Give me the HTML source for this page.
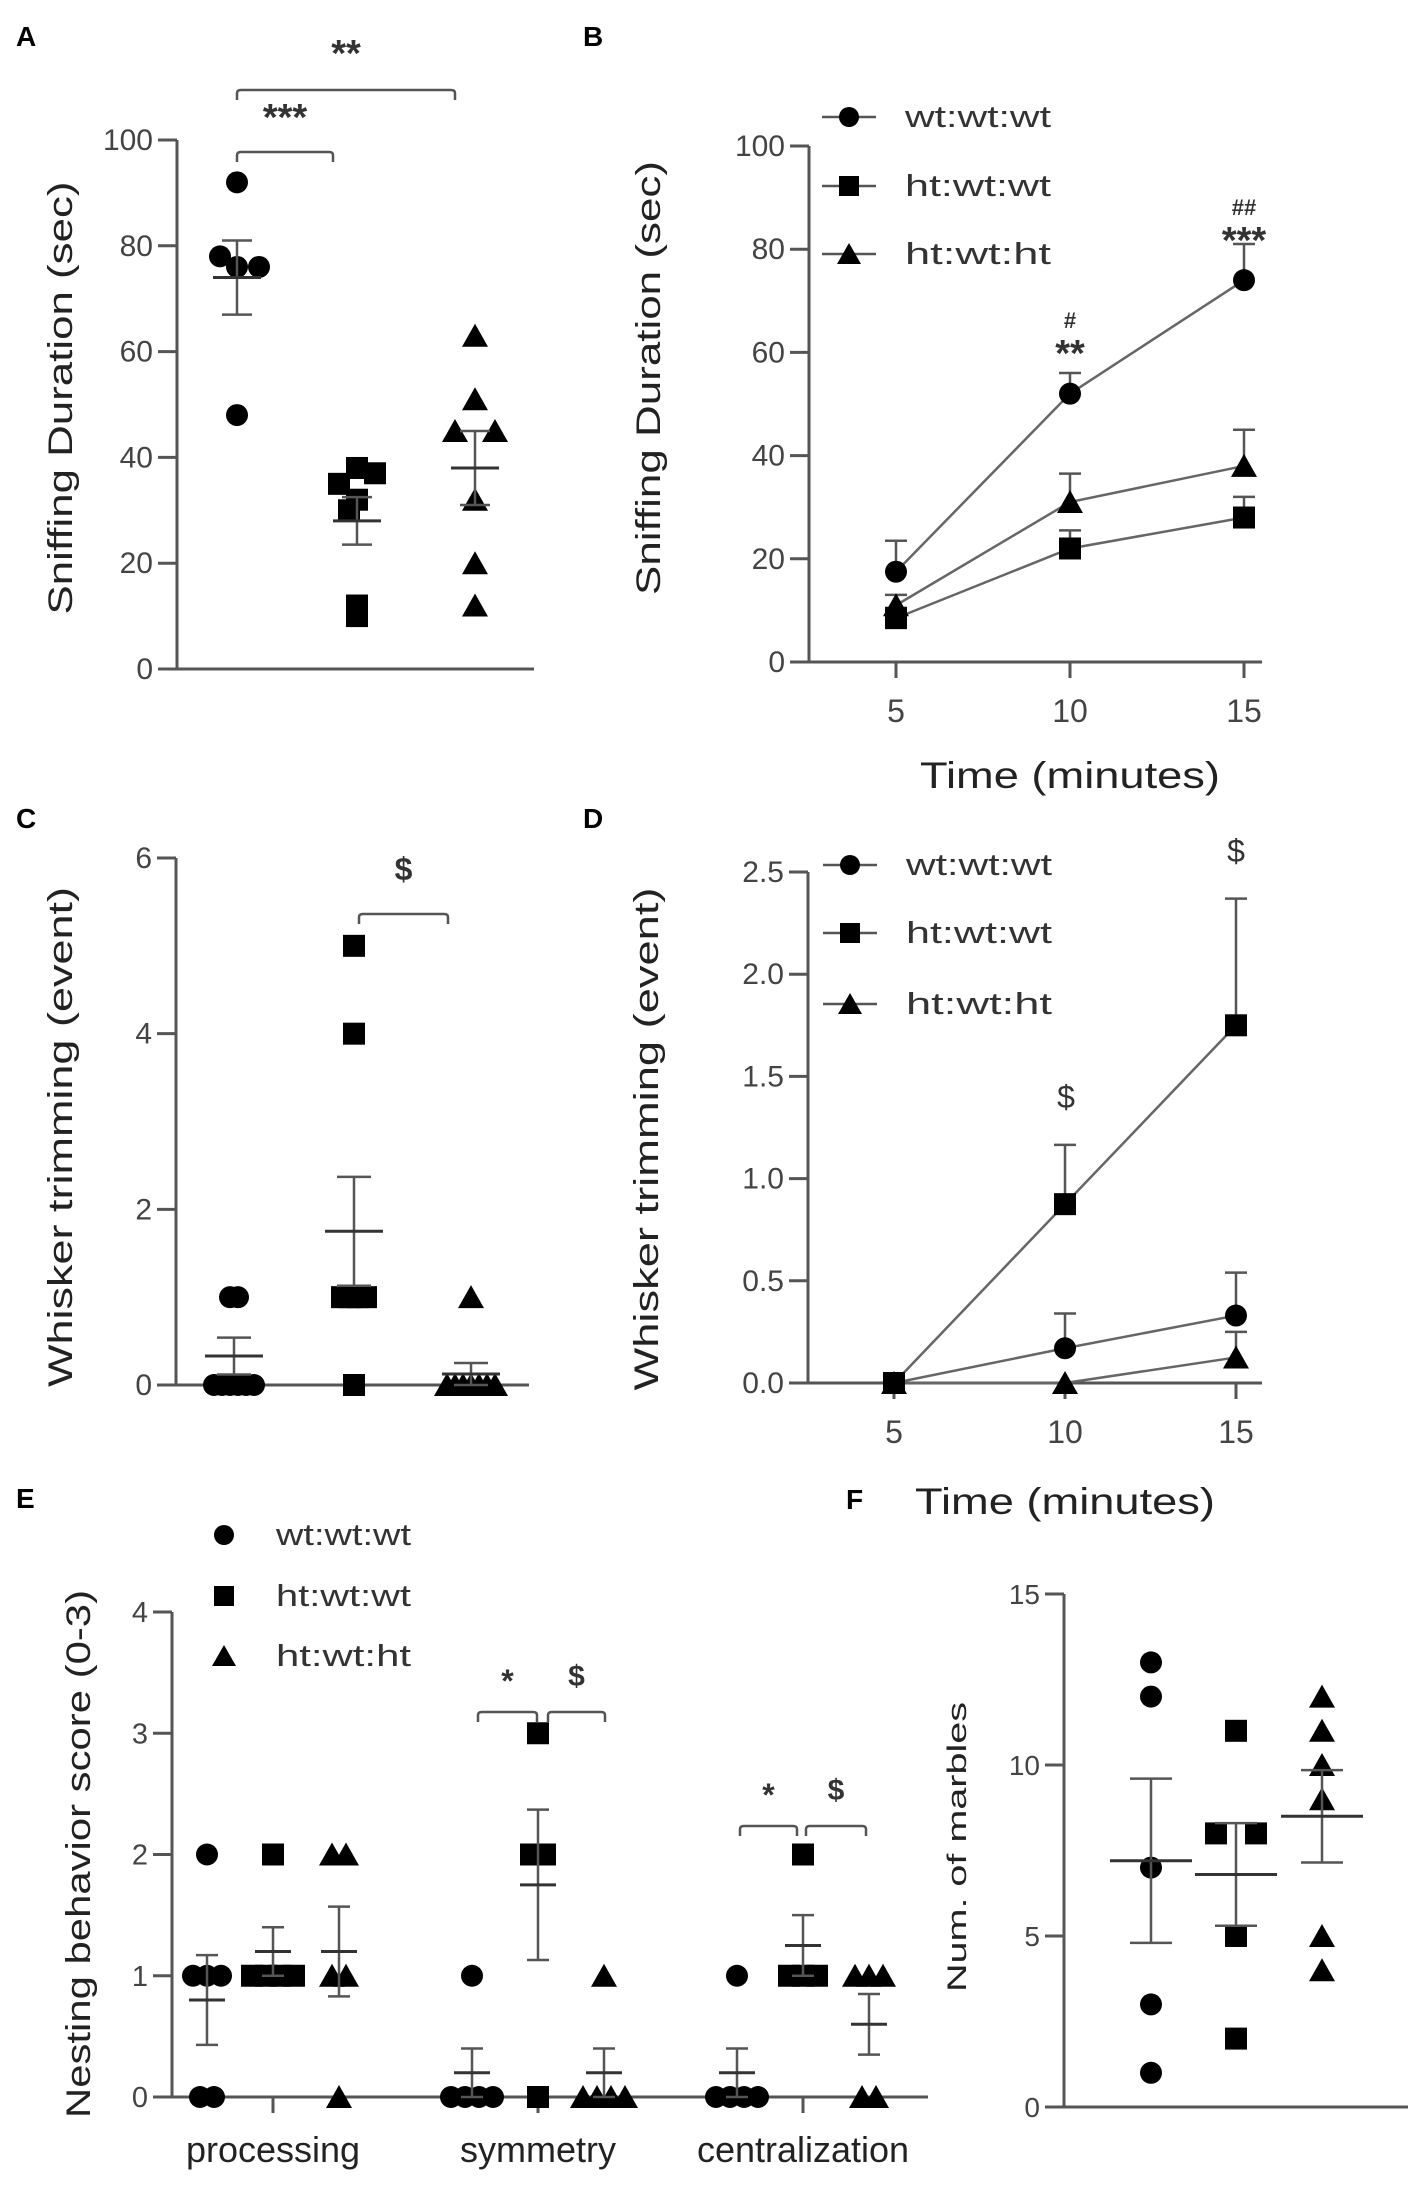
<!DOCTYPE html>
<html><head><meta charset="utf-8"><title>Behavior figure</title>
<style>
html,body{margin:0;padding:0;background:#fff;}
svg{display:block;font-family:"Liberation Sans",sans-serif;}
</style></head>
<body>
<svg id="fig" width="1418" height="2186" viewBox="0 0 1418 2186" xmlns="http://www.w3.org/2000/svg"></svg>
<script>
// ---------- Panel A data ----------
const A_groups=['wt:wt:wt','ht:wt:wt','ht:wt:ht'];
const A_wt=[92,78,76,76,48];
const A_htwt=[38,37,35,32,30,12,10];
const A_htht=[63,51,45,45,32,20,12];
const A_mean=[74,28,38];
const A_sem=[7,4.5,7];
const A_ticks=[0,20,40,60,80,100];
// ---------- Panel B data ----------
const B_times=[5,10,15];
const B_wt=[17.5,52,74];
const B_wtErr=[6,4,7];
const B_htwt=[8.5,22,28];
const B_htwtErr=[2,3.5,4];
const B_htht=[11,31,38];
const B_hthtErr=[2,5.5,7];
const B_ticks=[0,20,40,60,80,100];
// ---------- Panel C data ----------
const C_wt=[1,1,0,0,0,0,0,0];
const C_htwt=[5,4,1,1,1,1,0];
const C_htht=[1,0,0,0,0,0,0,0];
const C_mean=[0.33,1.75,0.125];
const C_sem=[0.21,0.62,0.125];
const C_ticks=[0,2,4,6];
// ---------- Panel D data ----------
const D_times=[5,10,15];
const D_wt=[0,0.17,0.33];
const D_wtErr=[0,0.17,0.21];
const D_htwt=[0,0.875,1.75];
const D_htwtErr=[0,0.29,0.62];
const D_htht=[0,0,0.125];
const D_hthtErr=[0,0,0.125];
const D_ticks=[0,0.5,1.0,1.5,2.0,2.5];
// ---------- Panel E data ----------
const E_categories=['processing','symmetry','centralization'];
const E_wt=[[2,1,1,1,0,0],[1,0,0,0,0],[1,0,0,0,0]];
const E_htwt=[[2,1,1,1,1],[3,2,2,0],[2,1,1,1]];
const E_htht=[[2,2,1,1,0],[1,0,0,0,0],[1,1,1,0,0]];
const E_mean=[[0.8,1.2,1.2],[0.2,1.75,0.2],[0.2,1.25,0.6]];
const E_sem=[[0.37,0.2,0.37],[0.2,0.62,0.2],[0.2,0.25,0.25]];
const E_ticks=[0,1,2,3,4];
// ---------- Panel F data ----------
const F_wt=[13,12,7,3,1];
const F_htwt=[11,8,8,5,2];
const F_htht=[12,11,10,9,5,4];
const F_mean=[7.2,6.8,8.5];
const F_sem=[2.4,1.5,1.35];
const F_ticks=[0,5,10,15];

const svg=document.getElementById('fig');
const NS='http://www.w3.org/2000/svg';
const AX='#555';
function mk(tag,attrs,parent){const e=document.createElementNS(NS,tag);for(const k in attrs)e.setAttribute(k,attrs[k]);(parent||svg).appendChild(e);return e;}
function txt(s,attrs,parent){const e=mk('text',attrs,parent);e.textContent=s;return e;}
function marker(shape,x,y,parent,size){
  const r=size||11;let e;
  if(shape==='circle')e=mk('circle',{cx:x,cy:y,r:r,fill:'#000'},parent);
  else if(shape==='square')e=mk('rect',{x:x-r,y:y-r,width:2*r,height:2*r,fill:'#000'},parent);
  else e=mk('polygon',{points:`${x},${y-r-1} ${x+r+2},${y+r} ${x-r-2},${y+r}`,fill:'#000'},parent);
  return e;
}
function yAxis(g,x,yt,yb,ymin,ymax,ticks,fmt,fs){
  const sy=v=>yb-(v-ymin)/(ymax-ymin)*(yb-yt);
  const ax=mk('line',{x1:x,y1:yt,x2:x,y2:yb,stroke:AX,'stroke-width':3},g);
  
  
  ticks.forEach(t=>{
    const tk=mk('line',{x1:x-19,y1:sy(t),x2:x,y2:sy(t),stroke:AX,'stroke-width':3},g);
    
    
    const l=txt(fmt?fmt(t):String(t),{x:x-24,y:sy(t)+10,'text-anchor':'end','font-size':fs||30,fill:'#444'},g);
    
    
  });
  return sy;
}
function xAxisLine(g,x1,x2,y){
  const a=mk('line',{x1:x1,y1:y,x2:x2,y2:y,stroke:AX,'stroke-width':3},g);
  
  
}
function yTitle(g,s,cx,cy,len,fs){
  const t=txt(s,{x:0,y:0,transform:`translate(${cx},${cy}) rotate(-90)`,'text-anchor':'middle','font-size':fs,fill:'#222',textLength:len,lengthAdjust:'spacingAndGlyphs'},g);
  
  
}
function panelLabel(s,x,y){
  const t=txt(s,{x:x,y:y,'font-size':28,'font-weight':'bold',fill:'#000'});
  
  
}
function bracket(g,x1,x2,y,label,ly,fs){
  const p=mk('path',{d:`M${x1},${y+10} L${x1},${y+3} Q${x1},${y} ${x1+4},${y} L${x2-4},${y} Q${x2},${y} ${x2},${y+3} L${x2},${y+10}`,fill:'none',stroke:AX,'stroke-width':2.5},g);
  
  
  const t=txt(label,{x:(x1+x2)/2,y:ly,'text-anchor':'middle','font-size':fs||30,'font-weight':'bold',fill:'#333'},g);
  
  
}
function meanSem(g,x,sy,m,s,mh,ch){
  const e=mk('line',{x1:x,y1:sy(m-s),x2:x,y2:sy(m+s),stroke:AX,'stroke-width':2.5},g);
  
  
  [m-s,m+s].forEach(v=>{
    const c=mk('line',{x1:x-ch,y1:sy(v),x2:x+ch,y2:sy(v),stroke:AX,'stroke-width':2.5},g);
    
    
  });
  const ml=mk('line',{x1:x-mh,y1:sy(m),x2:x+mh,y2:sy(m),stroke:'#333','stroke-width':3},g);
  
  
}
function scatter(g,vals,cx,sy,shape,spread,name){
  const counts={};vals.forEach(v=>counts[v]=(counts[v]||0)+1);
  const seen={};
  vals.forEach(v=>{
    const n=counts[v];const k=(seen[v]=(seen[v]||0)+1)-1;
    const dx=n>1?(k-(n-1)/2)*spread:0;
    const m=marker(shape,cx+dx,sy(v),g);
    
    
  });
}
function legend(g,items,x,ys,tx,withLine,fs,len){
  items.forEach((it,i)=>{
    if(withLine){
      const l=mk('line',{x1:x-27,y1:ys[i],x2:x+27,y2:ys[i],stroke:AX,'stroke-width':2.5},g);
      
      
    }
    const m=marker(it[1],x,ys[i],g,10);
    
    
    const t=txt(it[0],{x:tx,y:ys[i]+10,'font-size':fs,fill:'#333',textLength:len,lengthAdjust:'spacingAndGlyphs'},g);
    
    
  });
}
const shapes=['circle','square','triangle'];

// ================= Panel A =================
(function(){
  const g=mk('g',{});
  
  
  panelLabel('A',16,46);
  const sy=yAxis(g,177,140,669,0,100,A_ticks);
  xAxisLine(g,158,534,669);
  yTitle(g,'Sniffing Duration (sec)',72,398,433,34);
  const cx=[237,357,475];
  [A_wt,A_htwt,A_htht].forEach((vals,i)=>{
    vals.forEach((v,j)=>{
      let dx=0;
      if(i===0){dx=[0,-17,0,22,0][j];}
      if(i===1){dx=[0,18,-18,0,-8,0,0][j];}
      if(i===2){dx=[0,0,-20,20,0,0,0][j];}
      const m=marker(shapes[i],cx[i]+dx,sy(vals[j]),g);
      
      
    });
    meanSem(g,cx[i],sy,A_mean[i],A_sem[i],24,15);
  });
  bracket(g,cx[0],333,152,'***',130,38);
  bracket(g,cx[0],455,90,'**',66,38);
})();

// ================= line panels =================
function linePanel(cfg){
  const g=mk('g',{});
  
  
  const sy=yAxis(g,cfg.x0,cfg.yt,cfg.yb,cfg.ymin,cfg.ymax,cfg.ticks,cfg.fmt);
  xAxisLine(g,cfg.x0-19,cfg.xEnd,cfg.yb);
  const sx=t=>cfg.xa+(t-cfg.times[0])/(cfg.times[cfg.times.length-1]-cfg.times[0])*(cfg.xb-cfg.xa);
  cfg.times.forEach(t=>{
    const tk=mk('line',{x1:sx(t),y1:cfg.yb,x2:sx(t),y2:cfg.yb+16,stroke:AX,'stroke-width':3},g);
    
    
    const l=txt(String(t),{x:sx(t),y:cfg.yb+60,'text-anchor':'middle','font-size':32,fill:'#444'},g);
    
    
  });
  const xt=txt('Time (minutes)',{x:sx(cfg.times[1]),y:cfg.xTitleY,'text-anchor':'middle','font-size':37,fill:'#222',textLength:300,lengthAdjust:'spacingAndGlyphs'},g);
  
  
  yTitle(g,cfg.title,cfg.titleX,cfg.titleY,cfg.titleLen,34);
  cfg.series.forEach((s,i)=>{
    const pts=s.vals.map((v,j)=>`${sx(cfg.times[j])},${sy(v)}`).join(' ');
    const pl=mk('polyline',{points:pts,fill:'none',stroke:'#666','stroke-width':2.5},g);
    
    
  });
  cfg.series.forEach((s,i)=>{
    s.vals.forEach((v,j)=>{
      const x=sx(cfg.times[j]);
      if(s.err[j]>0){
        const e=mk('line',{x1:x,y1:sy(v),x2:x,y2:sy(v+s.err[j]),stroke:AX,'stroke-width':2.5},g);
        
        
        const c=mk('line',{x1:x-11,y1:sy(v+s.err[j]),x2:x+11,y2:sy(v+s.err[j]),stroke:AX,'stroke-width':2.5},g);
        
        
      }
      const m=marker(shapes[i],x,sy(v),g);
      
      
    });
  });
  legend(g,cfg.series.map((s,i)=>[s.label,shapes[i]]),cfg.legX,cfg.legY,cfg.legX+56,true,31,146);
  return {g,sx,sy};
}
panelLabel('B',583,46);
const B=linePanel({name:'panel-b',x0:809,yt:146,yb:662,ymin:0,ymax:100,ticks:B_ticks,xa:896,xb:1244,xEnd:1262,
  times:B_times,xTitleY:788,title:'Sniffing Duration (sec)',titleX:660,titleY:378,titleLen:434,
  series:[{label:'wt:wt:wt',vals:B_wt,err:B_wtErr},{label:'ht:wt:wt',vals:B_htwt,err:B_htwtErr},{label:'ht:wt:ht',vals:B_htht,err:B_hthtErr}],
  legX:849,legY:[117,186,254]});
[['#',1070,328,22],['**',1070,366,38],['##',1244,215,22],['***',1244,253,38]].forEach(a=>{
  const t=txt(a[0],{x:a[1],y:a[2],'text-anchor':'middle','font-size':a[3],'font-weight':'bold',fill:'#333'},B.g);
  
  
});

// ================= Panel C =================
(function(){
  const g=mk('g',{});
  
  
  panelLabel('C',16,828);
  const sy=yAxis(g,176,858,1385,0,6,C_ticks);
  xAxisLine(g,157,529,1385);
  yTitle(g,'Whisker trimming (event)',72,1137,500,34);
  const cx=[234,354,471];
  [C_wt,C_htwt,C_htht].forEach((vals,i)=>{
    scatter(g,vals,cx[i],sy,shapes[i],8,'point-'+A_groups[i]);
    meanSem(g,cx[i],sy,C_mean[i],C_sem[i],29,17);
  });
  bracket(g,359,448,914,'$',880,32);
})();

// ================= Panel D =================
panelLabel('D',583,828);
const D=linePanel({name:'panel-d',x0:808,yt:872,yb:1383,ymin:0,ymax:2.5,ticks:D_ticks,fmt:t=>t.toFixed(1),xa:894,xb:1236,xEnd:1262,
  times:D_times,xTitleY:1514,title:'Whisker trimming (event)',titleX:658,titleY:1139,titleLen:503,
  series:[{label:'wt:wt:wt',vals:D_wt,err:D_wtErr},{label:'ht:wt:wt',vals:D_htwt,err:D_htwtErr},{label:'ht:wt:ht',vals:D_htht,err:D_hthtErr}],
  legX:850,legY:[865,933,1004]});
[['$',1066,1108],['$',1236,862]].forEach(a=>{
  const t=txt(a[0],{x:a[1],y:a[2],'text-anchor':'middle','font-size':32,fill:'#333'},D.g);
  
  
});

// ================= Panel E =================
(function(){
  const g=mk('g',{});
  
  
  panelLabel('E',16,1508);
  const sy=yAxis(g,172,1612,2097,0,4,E_ticks,null,29);
  xAxisLine(g,153,928,2097);
  yTitle(g,'Nesting behavior score (0-3)',90,1854,528,34);
  const catX=[273,538,803], off=66;
  E_categories.forEach((c,ci)=>{
    const tk=mk('line',{x1:catX[ci],y1:2097,x2:catX[ci],y2:2113,stroke:AX,'stroke-width':3},g);
    
    
    const l=txt(c,{x:catX[ci],y:2162,'text-anchor':'middle','font-size':36,fill:'#222'},g);
    
    
    [E_wt,E_htwt,E_htht].forEach((arr,gi)=>{
      const x=catX[ci]+(gi-1)*off;
      scatter(g,arr[ci],x,sy,shapes[gi],14,'point-'+A_groups[gi]);
      meanSem(g,x,sy,E_mean[ci][gi],E_sem[ci][gi],18,11);
    });
  });
  bracket(g,478,537,1712,'*',1692,32);
  bracket(g,548,605,1712,'$',1686,30);
  bracket(g,740,797,1826,'*',1806,32);
  bracket(g,806,866,1826,'$',1800,30);
  legend(g,A_groups.map((s,i)=>[s,shapes[i]]),224,[1535,1596,1656],276,false,31,135);
})();

// ================= Panel F =================
(function(){
  const g=mk('g',{});
  
  
  panelLabel('F',846,1509);
  const sy=yAxis(g,1064,1594,2107,0,15,F_ticks,null,28);
  xAxisLine(g,1045,1408,2107);
  yTitle(g,'Num. of marbles',966,1847,290,27);
  const cx=[1151,1236,1322];
  [F_wt,F_htwt,F_htht].forEach((vals,i)=>{
    scatter(g,vals,cx[i],sy,shapes[i],40,'point-'+A_groups[i]);
    meanSem(g,cx[i],sy,F_mean[i],F_sem[i],41,21);
  });
})();
</script>
</body></html>
